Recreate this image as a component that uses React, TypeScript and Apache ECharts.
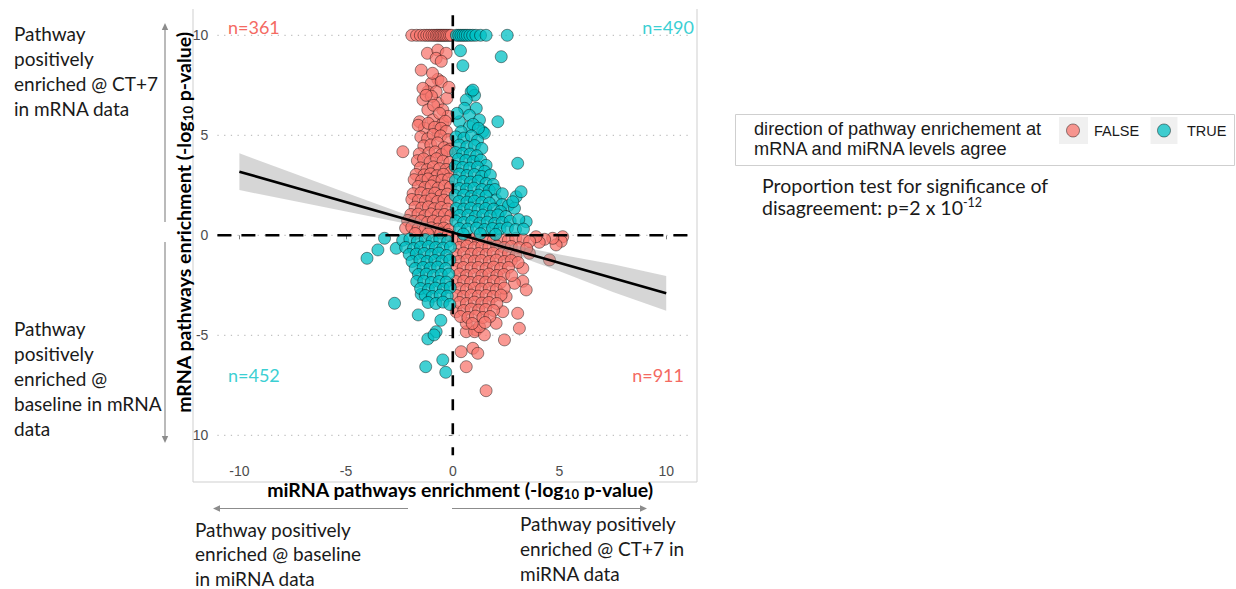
import React, { useEffect, useRef } from 'react';
import * as echarts from 'echarts';

// Axis settings and tick values
const X_MIN = -11.03;
const X_MAX = 11.03;
const Y_MIN = -11;
const Y_MAX = 11;
const xTicks = [-10, -5, 0, 5, 10];
const yTicks = [-10, -5, 0, 5, 10];
const gridY = [-10, -5, 0, 5, 10];

// Quadrant counts
const countLabels = { upperLeft: 'n=361', upperRight: 'n=490', lowerLeft: 'n=452', lowerRight: 'n=911' };

// Linear fit and its confidence band
const fitX = [-10, 10];
const fitY = [3.18, -2.9];
const bandX = [-10, -7.5, -5, -2.5, -1, 0, 1, 2.5, 5, 7.5, 10];
const bandLow = [2.26, 1.73, 1.19, 0.65, 0.31, 0.08, -0.24, -0.82, -1.8, -2.83, -3.77];
const bandHigh = [4.1, 3.11, 2.13, 1.15, 0.57, 0.2, -0.08, -0.42, -0.96, -1.45, -2.03];

// FALSE: miRNA < 0, mRNA > 0
const falseUpper: [number, number][] = [
  [-1.92, 10], [-1.7, 10], [-1.52, 10], [-1.35, 10], [-1.22, 10], [-1.1, 10], [-0.98, 10], [-0.88, 10], [-0.78, 10],
  [-0.7, 10], [-0.62, 10], [-0.55, 10], [-0.47, 10], [-0.4, 10], [-0.32, 10], [-0.24, 10], [-0.15, 10], [-0.07, 10],
  [-1.19, 9.1], [-0.7, 9.26], [-0.78, 8.85], [-0.31, 9.1], [-0.54, 8.7], [-1.48, 8.26], [-0.7, 7.8], [-1.01, 7.6],
  [-0.54, 7.68], [-1.17, 7.18], [-0.78, 7.18], [-1.4, 6.77], [-1.17, 6.27], [-0.7, 6.6], [-0.47, 6.27], [-0.94, 5.77],
  [-1.56, 5.68], [-0.47, 5.6], [-1.33, 5.35], [-0.7, 5.18], [-0.28, 6.85], [-0.22, 5.95], [-1.0, 6.95], [-0.95, 8.1],
  [-0.18, 7.4], [-1.62, 5.5], [-2.34, 4.18], [-1.4, 7.35], [-1.25, 7.0], [-0.9, 6.5], [-0.62, 6.1], [-0.35, 5.7],
  [-1.15, 5.6], [-0.85, 5.4], [-0.55, 5.35], [-0.3, 5.2],
  [-1.5, 4.92], [-1.18, 4.83], [-0.92, 5.04], [-0.57, 4.97], [-0.22, 4.78], [-1.36, 4.47], [-1.03, 4.52], [-0.71, 4.62],
  [-0.41, 4.38], [-0.13, 4.31], [-1.57, 4.07], [-1.12, 4.12], [-0.83, 4.17], [-0.52, 4.03], [-0.27, 4.22],
  [-1.66, 3.73], [-1.37, 3.82], [-1.06, 3.68], [-0.76, 3.83], [-0.46, 3.71], [-0.14, 3.64], [-1.52, 3.37], [-1.21, 3.28],
  [-0.91, 3.42], [-0.62, 3.33], [-0.31, 3.29], [-0.08, 3.16], [-1.72, 3.04], [-1.34, 3.02], [-1.04, 3.07], [-0.74, 2.98],
  [-0.44, 3.05],
  [-1.81, 2.78], [-1.46, 2.74], [-1.16, 2.82], [-0.86, 2.69], [-0.51, 2.76], [-0.19, 2.81], [-1.62, 2.44], [-1.31, 2.39],
  [-1.01, 2.47], [-0.69, 2.36], [-0.38, 2.46], [-0.11, 2.41], [-1.86, 2.08], [-1.49, 2.12], [-1.17, 2.04], [-0.84, 2.11],
  [-0.56, 1.99], [-0.26, 2.06],
  [-1.92, 1.79], [-1.61, 1.74], [-1.29, 1.71], [-0.99, 1.81], [-0.71, 1.69], [-0.41, 1.76], [-0.12, 1.71], [-1.77, 1.41],
  [-1.46, 1.36], [-1.14, 1.42], [-0.86, 1.33], [-0.54, 1.39], [-0.24, 1.31], [-1.97, 1.04], [-1.63, 1.06], [-1.31, 0.98],
  [-1.02, 1.07], [-0.69, 1.01], [-0.39, 1.04], [-0.09, 0.99],
  [-2.12, 0.74], [-1.81, 0.69], [-1.49, 0.72], [-1.19, 0.64], [-0.91, 0.71], [-0.61, 0.66], [-0.29, 0.69], [-2.21, 0.36],
  [-1.92, 0.41], [-1.62, 0.34], [-1.31, 0.29], [-1.01, 0.37], [-0.71, 0.31], [-0.42, 0.36], [-0.16, 0.28], [-1.76, 0.09],
  [-1.16, 0.07], [-0.56, 0.11], [-0.21, 0.04],
];

// FALSE: miRNA > 0, mRNA < 0
const falseLower: [number, number][] = [
  [5.15, -0.07], [5.08, -0.3], [4.84, -0.48], [4.68, -0.15], [4.53, -1.23], [4.3, -0.2], [4.05, -0.35], [3.9, -0.07],
  [3.59, -0.9], [3.28, -1.65], [3.28, -2.3], [2.89, -2.4], [3.44, -2.73], [3.04, -3.9], [3.12, -4.65], [2.34, -3.82],
  [2.5, -3.07], [2.03, -4.4], [2.42, -5.23], [1.1, -4.73], [0.63, -4.82], [1.02, -4.82], [1.48, -4.98], [0.63, -4.4],
  [1.25, -4.57], [0.39, -5.82], [0.94, -5.65], [1.17, -5.9], [0.63, -6.57], [1.56, -7.77], [0.16, -3.82],
  [0.15, -0.2], [0.5, -0.25], [0.85, -0.2], [1.2, -0.25], [1.55, -0.2], [1.9, -0.25], [2.25, -0.2], [2.6, -0.25],
  [2.95, -0.15], [3.3, -0.2], [3.6, -0.3], [0.31, -0.61], [0.66, -0.54], [1.01, -0.62], [1.36, -0.56], [1.69, -0.59],
  [2.06, -0.54], [2.41, -0.61], [2.74, -0.56], [3.11, -0.62], [3.46, -0.66], [0.14, -0.96], [0.51, -0.89], [0.86, -0.94],
  [1.21, -0.91], [1.56, -0.96], [1.89, -0.89], [2.26, -0.95], [2.61, -0.91], [2.96, -1.01],
  [0.29, -1.31], [0.66, -1.24], [1.01, -1.29], [1.34, -1.26], [1.71, -1.31], [2.04, -1.24], [2.41, -1.31], [2.74, -1.26],
  [3.06, -1.36], [0.16, -1.66], [0.49, -1.61], [0.86, -1.64], [1.19, -1.61], [1.56, -1.66], [1.91, -1.59], [2.24, -1.66],
  [2.61, -1.61], [0.31, -1.94], [0.64, -2.01], [1.01, -1.96], [1.36, -2.01], [1.69, -1.94], [2.06, -2.01], [2.39, -1.96],
  [2.76, -2.01],
  [0.14, -2.31], [0.51, -2.29], [0.84, -2.36], [1.21, -2.31], [1.54, -2.34], [1.91, -2.29], [2.24, -2.36], [0.31, -2.66],
  [0.64, -2.71], [1.01, -2.64], [1.34, -2.69], [1.71, -2.66], [2.04, -2.71], [2.41, -2.64], [0.16, -3.01], [0.49, -3.06],
  [0.86, -2.99], [1.19, -3.04], [1.56, -3.01], [1.89, -3.06], [2.26, -2.99],
  [0.31, -3.36], [0.64, -3.41], [1.01, -3.34], [1.36, -3.39], [1.69, -3.36], [2.06, -3.41], [0.51, -3.76], [0.86, -3.69],
  [1.21, -3.74], [1.54, -3.71], [1.91, -3.76], [0.36, -4.06], [0.71, -4.11], [1.06, -4.04], [1.41, -4.11], [1.74, -4.06],
  [0.91, -4.41], [1.51, -4.36],
];

// TRUE: miRNA > 0, mRNA > 0
const trueUpper: [number, number][] = [
  [0.17, 10], [0.28, 10], [0.38, 10], [0.48, 10], [0.58, 10], [0.68, 10], [0.8, 10], [0.93, 10], [1.08, 10], [1.3, 10],
  [1.56, 10], [2.55, 10],
  [0.36, 9.23], [2.27, 8.93], [0.47, 8.48], [0.86, 7.18], [1.02, 7.0], [0.63, 6.77], [0.55, 6.35], [1.1, 6.35], [0.78, 6.0],
  [0.31, 5.68], [1.25, 5.77], [2.11, 5.68], [0.78, 5.43], [1.4, 5.18], [0.39, 5.18], [1.48, 5.1], [0.95, 5.55], [0.2, 6.1],
  [1.2, 5.35], [0.94, 7.26],
  [0.15, 4.92], [0.52, 4.86], [0.87, 4.97], [1.16, 4.74], [0.31, 4.51], [0.66, 4.43], [1.02, 4.49], [1.36, 4.34],
  [0.13, 4.14], [0.46, 4.09], [0.81, 4.06], [1.12, 3.98],
  [0.26, 3.81], [0.61, 3.74], [0.96, 3.69], [1.31, 3.76], [1.56, 3.5], [0.11, 3.44], [0.46, 3.39], [0.79, 3.36],
  [1.16, 3.41], [1.49, 3.19], [0.31, 3.06], [0.66, 2.99], [1.01, 3.04], [1.34, 2.94], [1.76, 3.01], [3.04, 3.6],
  [0.12, 2.74], [0.49, 2.69], [0.83, 2.66], [1.19, 2.71], [1.56, 2.59], [1.89, 2.54], [0.31, 2.34], [0.64, 2.31],
  [0.99, 2.36], [1.36, 2.29], [1.71, 2.24], [1.97, 2.29], [0.11, 1.99], [0.51, 2.01], [0.86, 1.94], [1.21, 2.01],
  [1.56, 1.96], [2.03, 1.77], [2.32, 2.08],
  [0.29, 1.69], [0.66, 1.66], [1.01, 1.71], [1.36, 1.64], [1.71, 1.61], [2.31, 1.54], [2.61, 1.49], [0.16, 1.34],
  [0.51, 1.31], [0.84, 1.36], [1.19, 1.29], [1.54, 1.34], [1.91, 1.31], [2.24, 1.19], [2.97, 1.93], [3.2, 2.18],
  [2.89, 1.35], [2.81, 1.68], [0.31, 0.99], [0.71, 1.01], [1.06, 0.94], [1.41, 1.01], [1.76, 0.96], [2.11, 1.02],
  [2.49, 0.94],
  [0.14, 0.71], [0.51, 0.64], [0.89, 0.69], [1.26, 0.61], [1.61, 0.66], [1.96, 0.59], [2.31, 0.64], [2.69, 0.71],
  [3.44, 0.68], [3.09, 0.79], [0.31, 0.34], [0.69, 0.31], [1.11, 0.36], [1.49, 0.29], [1.86, 0.34], [2.21, 0.31],
  [2.56, 0.36], [2.94, 0.29], [3.31, 0.31], [0.49, 0.06], [1.29, 0.08], [2.01, 0.05],
];

// TRUE: miRNA < 0, mRNA < 0
const trueLower: [number, number][] = [
  [-3.2, -0.15], [-3.51, -0.73], [-4.02, -1.15], [-2.65, -0.65], [-2.73, -3.4], [-1.48, -2.95], [-1.62, -3.98],
  [-0.56, -4.25], [-0.78, -4.82], [-1.17, -5.18], [-0.88, -4.98], [-0.47, -6.23], [-1.27, -6.57], [-0.33, -6.85],
  [-2.35, -0.25], [-2.01, -0.19], [-1.66, -0.31], [-1.29, -0.21], [-0.96, -0.26], [-0.61, -0.19], [-0.24, -0.31],
  [-2.21, -0.61], [-1.84, -0.66], [-1.51, -0.59], [-1.14, -0.56], [-0.81, -0.61], [-0.46, -0.64], [-0.11, -0.59],
  [-2.04, -0.96], [-1.71, -0.94], [-1.34, -0.91], [-1.01, -0.96], [-0.66, -0.89], [-0.29, -1.01],
  [-1.91, -1.31], [-1.54, -1.24], [-1.21, -1.31], [-0.84, -1.26], [-0.51, -1.29], [-0.14, -1.24], [-1.76, -1.66],
  [-1.39, -1.61], [-1.06, -1.64], [-0.71, -1.59], [-0.34, -1.66], [-1.61, -1.96], [-1.24, -1.94], [-0.91, -2.01],
  [-0.54, -1.96], [-0.19, -1.94],
  [-1.69, -2.31], [-1.36, -2.29], [-1.01, -2.36], [-0.64, -2.31], [-0.31, -2.34], [-1.51, -2.66], [-1.14, -2.71],
  [-0.81, -2.64], [-0.44, -2.69], [-0.12, -2.61], [-1.29, -3.01], [-0.96, -3.06], [-0.59, -2.99], [-0.26, -3.04],
  [-1.16, -3.36], [-0.79, -3.41], [-0.46, -3.34], [-0.14, -3.46],
];

const falsePoints = falseUpper.concat(falseLower);
const truePoints = trueUpper.concat(trueLower);

const RED_FILL = 'rgba(248,118,109,0.74)';
const TEAL_FILL = 'rgba(0,191,196,0.74)';
const POINT_STROKE = 'rgba(0,0,0,0.55)';
const SANS = 'Lato';
const GG = '"Liberation Sans"';

function arrow(x1: number, y1: number, x2: number, y2: number) {
  const ang = Math.atan2(y2 - y1, x2 - x1);
  const len = 7;
  const half = 3.2;
  const bx = x2 - Math.cos(ang) * len;
  const by = y2 - Math.sin(ang) * len;
  const px = -Math.sin(ang) * half;
  const py = Math.cos(ang) * half;
  return [
    { type: 'line', silent: true, shape: { x1, y1, x2: bx, y2: by }, style: { stroke: '#8c8c8c', lineWidth: 1.2 } },
    {
      type: 'polygon',
      silent: true,
      shape: { points: [[x2, y2], [bx + px, by + py], [bx - px, by - py]] },
      style: { fill: '#8c8c8c' },
    },
  ];
}

// one text element per line, centred vertically on its row
function textLines(x: number, firstY: number, lines: string[], step = 25) {
  return lines.map((line, i) => ({
    type: 'text',
    silent: true,
    x,
    y: firstY + i * step,
    style: {
      text: line,
      fontFamily: SANS,
      fontSize: 19,
      lineHeight: 16,
      fill: '#1a1a1a',
      align: 'left',
      verticalAlign: 'middle',
    },
  }));
}

function buildOption() {
  const countText = (x: number, y: number, text: string, color: string, align: string) => ({
    type: 'text',
    silent: true,
    x,
    y,
    style: { text, fontFamily: SANS, fontSize: 18, fill: color, align, verticalAlign: 'middle' },
  });

  const axisTitle = (x: number, y: number, text: string, rotation: number) => ({
    type: 'text',
    silent: true,
    x,
    y,
    rotation,
    style: {
      text,
      fontFamily: SANS,
      fontSize: 19.5,
      fontWeight: 'bold',
      lineHeight: 22,
      fill: '#000',
      align: 'center',
      verticalAlign: 'middle',
      rich: { sub: { fontFamily: SANS, fontSize: 13, fontWeight: 'bold', lineHeight: 14, verticalAlign: 'bottom' } },
    },
  });

  const graphic: any[] = [
    // outer frame of the plot image
    { type: 'line', silent: true, shape: { x1: 193, y1: 9, x2: 193, y2: 482 }, style: { stroke: '#cfcfcf', lineWidth: 1 } },
    { type: 'line', silent: true, shape: { x1: 697, y1: 9, x2: 697, y2: 482 }, style: { stroke: '#cfcfcf', lineWidth: 1 } },
    { type: 'line', silent: true, shape: { x1: 193, y1: 482, x2: 697, y2: 482 }, style: { stroke: '#cfcfcf', lineWidth: 1 } },

    countText(228, 27, countLabels.upperLeft, '#f46a62', 'left'),
    countText(694, 27, countLabels.upperRight, '#3ccfd3', 'right'),
    countText(228, 375, countLabels.lowerLeft, '#3ccfd3', 'left'),
    countText(684, 375, countLabels.lowerRight, '#f46a62', 'right'),

    axisTitle(460, 489, 'miRNA pathways enrichment (-log{sub|10} p-value)', 0),
    axisTitle(183, 222.5, 'mRNA pathways enrichment (-log{sub|10} p-value)', Math.PI / 2),

    // direction arrows
    ...arrow(165, 222, 165, 23),
    ...arrow(165, 242, 165, 443),
    ...arrow(408, 508.5, 213, 508.5),
    ...arrow(452, 508.5, 647, 508.5),

    // side notes
    ...textLines(14, 33, ['Pathway', 'positively', 'enriched @ CT+7', 'in mRNA data']),
    ...textLines(14, 328, ['Pathway', 'positively', 'enriched @', 'baseline in mRNA', 'data']),
    ...textLines(195, 529, ['Pathway positively', 'enriched @ baseline', 'in miRNA data'], 24.5),
    ...textLines(520, 523, ['Pathway positively', 'enriched @ CT+7 in', 'miRNA data']),

    // legend
    {
      type: 'rect',
      silent: true,
      shape: { x: 735.5, y: 114.5, width: 499, height: 51 },
      style: { fill: '#fff', stroke: '#cfcfcf', lineWidth: 1 },
    },
    {
      type: 'text',
      silent: true,
      x: 754,
      y: 118.5,
      style: {
        text: 'direction of pathway enrichement at\nmRNA and miRNA levels agree',
        fontFamily: GG,
        fontSize: 18.2,
        lineHeight: 20,
        fill: '#1a1a1a',
        align: 'left',
        verticalAlign: 'top',
      },
    },
    { type: 'rect', silent: true, shape: { x: 1059, y: 117, width: 29, height: 27 }, style: { fill: '#f0f0f0' } },
    {
      type: 'circle',
      silent: true,
      shape: { cx: 1073, cy: 130.5, r: 6.5 },
      style: { fill: RED_FILL, stroke: POINT_STROKE, lineWidth: 0.8 },
    },
    {
      type: 'text',
      silent: true,
      x: 1094,
      y: 131,
      style: { text: 'FALSE', fontFamily: GG, fontSize: 14.5, fill: '#1a1a1a', align: 'left', verticalAlign: 'middle' },
    },
    { type: 'rect', silent: true, shape: { x: 1150.5, y: 117, width: 27, height: 27 }, style: { fill: '#f0f0f0' } },
    {
      type: 'circle',
      silent: true,
      shape: { cx: 1164, cy: 130.5, r: 6.5 },
      style: { fill: TEAL_FILL, stroke: POINT_STROKE, lineWidth: 0.8 },
    },
    {
      type: 'text',
      silent: true,
      x: 1187,
      y: 131,
      style: { text: 'TRUE', fontFamily: GG, fontSize: 14.5, fill: '#1a1a1a', align: 'left', verticalAlign: 'middle' },
    },

    // proportion test note
    {
      type: 'text',
      silent: true,
      x: 762,
      y: 185,
      style: {
        text: 'Proportion test for significance of',
        fontFamily: SANS,
        fontSize: 19.5,
        fill: '#1a1a1a',
        align: 'left',
        verticalAlign: 'middle',
      },
    },
    {
      type: 'text',
      silent: true,
      x: 762,
      y: 207,
      style: {
        text: 'disagreement: p=2 x 10{sup|-12}',
        fontFamily: SANS,
        fontSize: 19.5,
        lineHeight: 22,
        fill: '#1a1a1a',
        align: 'left',
        verticalAlign: 'middle',
        rich: { sup: { fontFamily: SANS, fontSize: 12.5, lineHeight: 12, verticalAlign: 'top', fill: '#1a1a1a' } },
      },
    },
  ];

  const lineSeg = (a: number[], b: number[], style: any) => ({
    type: 'line',
    shape: { x1: a[0], y1: a[1], x2: b[0], y2: b[1] },
    style,
  });

  return {
    animation: false,
    backgroundColor: '#fff',
    grid: { left: 217.4, top: 15.3, width: 470.8, height: 440 },
    xAxis: {
      type: 'value',
      min: X_MIN,
      max: X_MAX,
      axisLine: { show: false },
      splitLine: { show: false },
      axisTick: { show: true, length: 4, lineStyle: { color: '#7f7f7f' }, customValues: xTicks },
      axisLabel: { customValues: xTicks, color: '#4d4d4d', fontFamily: GG, fontSize: 14, margin: 9 },
    },
    yAxis: {
      type: 'value',
      min: Y_MIN,
      max: Y_MAX,
      axisLine: { show: false },
      splitLine: { show: false },
      axisTick: { show: true, length: 4, lineStyle: { color: '#7f7f7f' }, customValues: yTicks },
      axisLabel: {
        customValues: yTicks,
        color: '#4d4d4d',
        fontFamily: GG,
        fontSize: 14,
        margin: 9,
        formatter: (v: number) => (v === -10 ? '10' : String(v)),
      },
    },
    graphic,
    series: [
      {
        // dotted horizontal grid
        type: 'custom',
        silent: true,
        z: 1,
        data: gridY.map((v) => [0, v]),
        renderItem: (_p: any, api: any) => {
          const y = api.value(1);
          return lineSeg(api.coord([X_MIN, y]), api.coord([X_MAX, y]), {
            stroke: '#c2c2c2',
            lineWidth: 1.3,
            lineDash: [1.3, 5.4],
          });
        },
      },
      {
        name: 'FALSE',
        type: 'scatter',
        z: 2,
        symbolSize: 12,
        data: falsePoints,
        itemStyle: { color: RED_FILL, borderColor: POINT_STROKE, borderWidth: 0.8, opacity: 1 },
        emphasis: { disabled: true },
      },
      {
        name: 'TRUE',
        type: 'scatter',
        z: 3,
        symbolSize: 12,
        data: truePoints,
        itemStyle: { color: TEAL_FILL, borderColor: POINT_STROKE, borderWidth: 0.8, opacity: 1 },
        emphasis: { disabled: true },
      },
      {
        // confidence band of the linear fit
        type: 'custom',
        silent: true,
        z: 4,
        data: [[0, 0]],
        renderItem: (_p: any, api: any) => {
          const upper = bandX.map((x, i) => api.coord([x, bandHigh[i]]));
          const lower = bandX.map((x, i) => api.coord([x, bandLow[i]])).reverse();
          return {
            type: 'polygon',
            shape: { points: upper.concat(lower) },
            style: { fill: 'rgba(153,153,153,0.4)' },
          };
        },
      },
      {
        type: 'line',
        silent: true,
        z: 5,
        symbol: 'none',
        data: fitX.map((x, i) => [x, fitY[i]]),
        lineStyle: { color: '#000', width: 2.6 },
      },
      {
        // zero reference lines
        type: 'custom',
        silent: true,
        z: 6,
        data: [[0, 0]],
        renderItem: (_p: any, api: any) => {
          const st = { stroke: '#000', lineWidth: 2.6, lineDash: [11, 13] };
          return {
            type: 'group',
            children: [
              lineSeg(api.coord([X_MIN, 0]), api.coord([X_MAX, 0]), { ...st, lineDash: [14, 10] }),
              lineSeg(api.coord([0, Y_MAX]), api.coord([0, Y_MIN]), st),
            ],
          };
        },
      },
    ],
  };
}

export default function App() {
  const ref = useRef<HTMLDivElement>(null);
  useEffect(() => {
    if (!ref.current) return;
    const chart = echarts.init(ref.current, null, { renderer: 'svg' });
    chart.setOption(buildOption() as any);
    return () => chart.dispose();
  }, []);
  return (
    <div
      ref={ref}
      style={{ position: 'fixed', left: 0, top: 0, width: 1236, height: 589, background: '#fff' }}
    />
  );
}
